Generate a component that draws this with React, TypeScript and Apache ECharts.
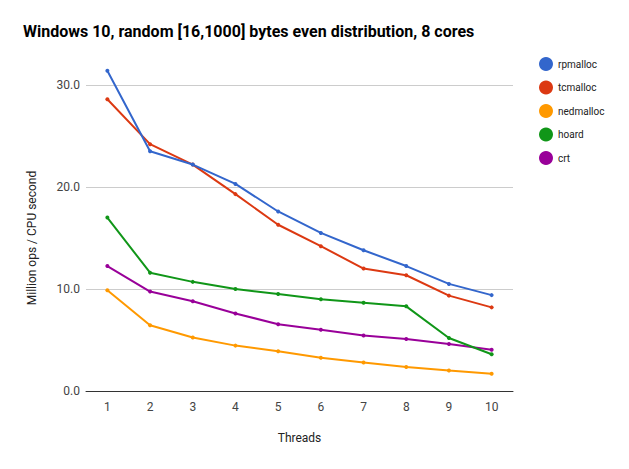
import React, { useEffect, useRef } from "react";
import * as echarts from "echarts";

const threads = ["1", "2", "3", "4", "5", "6", "7", "8", "9", "10"];
const rpmalloc = [31.4, 23.5, 22.2, 20.3, 17.6, 15.5, 13.8, 12.25, 10.5, 9.4];
const tcmalloc = [28.6, 24.2, 22.2, 19.3, 16.3, 14.2, 12.0, 11.35, 9.35, 8.2];
const nedmalloc = [9.87, 6.45, 5.25, 4.45, 3.9, 3.27, 2.8, 2.35, 2.0, 1.7];
const hoard = [17.0, 11.6, 10.7, 10.0, 9.5, 9.0, 8.65, 8.3, 5.2, 3.6];
const crt = [12.25, 9.75, 8.8, 7.6, 6.55, 6.0, 5.45, 5.1, 4.6, 4.05];

const seriesNames = ["rpmalloc", "tcmalloc", "nedmalloc", "hoard", "crt"];
const seriesData = [rpmalloc, tcmalloc, nedmalloc, hoard, crt];
const colors = ["#3366cc", "#dc3912", "#ff9900", "#109618", "#990099"];

export default function App() {
  const ref = useRef<HTMLDivElement>(null);
  useEffect(() => {
    if (!ref.current) return;
    const chart = echarts.init(ref.current, undefined, { renderer: "svg" });
    chart.setOption({
      animation: false,
      color: colors,
      textStyle: { fontFamily: "Roboto, Arial, sans-serif" },
      title: {
        text: "Windows 10, random [16,1000] bytes even distribution, 8 cores",
        left: 18,
        top: 18,
        textStyle: { fontSize: 16, fontWeight: "bold", color: "#000", fontFamily: "Roboto, Arial, sans-serif" },
      },
      legend: {
        orient: "vertical",
        left: 534,
        top: 52,
        icon: "circle",
        itemWidth: 14,
        itemHeight: 14,
        itemGap: 9.5,
        textStyle: { fontSize: 10, color: "#222" },
        data: seriesNames,
      },
      grid: { left: 86, right: 116, top: 85, bottom: 78, containLabel: false },
      xAxis: {
        type: "category",
        data: threads,
        boundaryGap: true,
        name: "Threads",
        nameLocation: "middle",
        nameGap: 41,
        nameTextStyle: { fontSize: 12, color: "#222" },
        axisLine: { lineStyle: { color: "#333", width: 1 } },
        axisTick: { show: false },
        axisLabel: { fontSize: 12, color: "#444", margin: 10 },
      },
      yAxis: {
        type: "value",
        min: 0,
        max: 30,
        interval: 10,
        name: "Million ops / CPU second",
        nameLocation: "middle",
        nameGap: 48,
        nameTextStyle: { fontSize: 12, color: "#222" },
        axisLine: { show: false },
        axisTick: { show: false },
        axisLabel: { fontSize: 12, color: "#444", margin: 6, formatter: (v: number) => v.toFixed(1) },
        splitLine: { lineStyle: { color: "#cccccc" } },
      },
      series: seriesNames.map((name, i) => ({
        name,
        type: "line",
        data: seriesData[i],
        clip: false,
        symbol: "circle",
        symbolSize: 4,
        lineStyle: { width: 2 },
        z: 10 - i,
      })),
    });
    return () => chart.dispose();
  }, []);
  return <div ref={ref} style={{ width: 629, height: 469, position: "absolute", left: 0, top: 0 }} />;
}
